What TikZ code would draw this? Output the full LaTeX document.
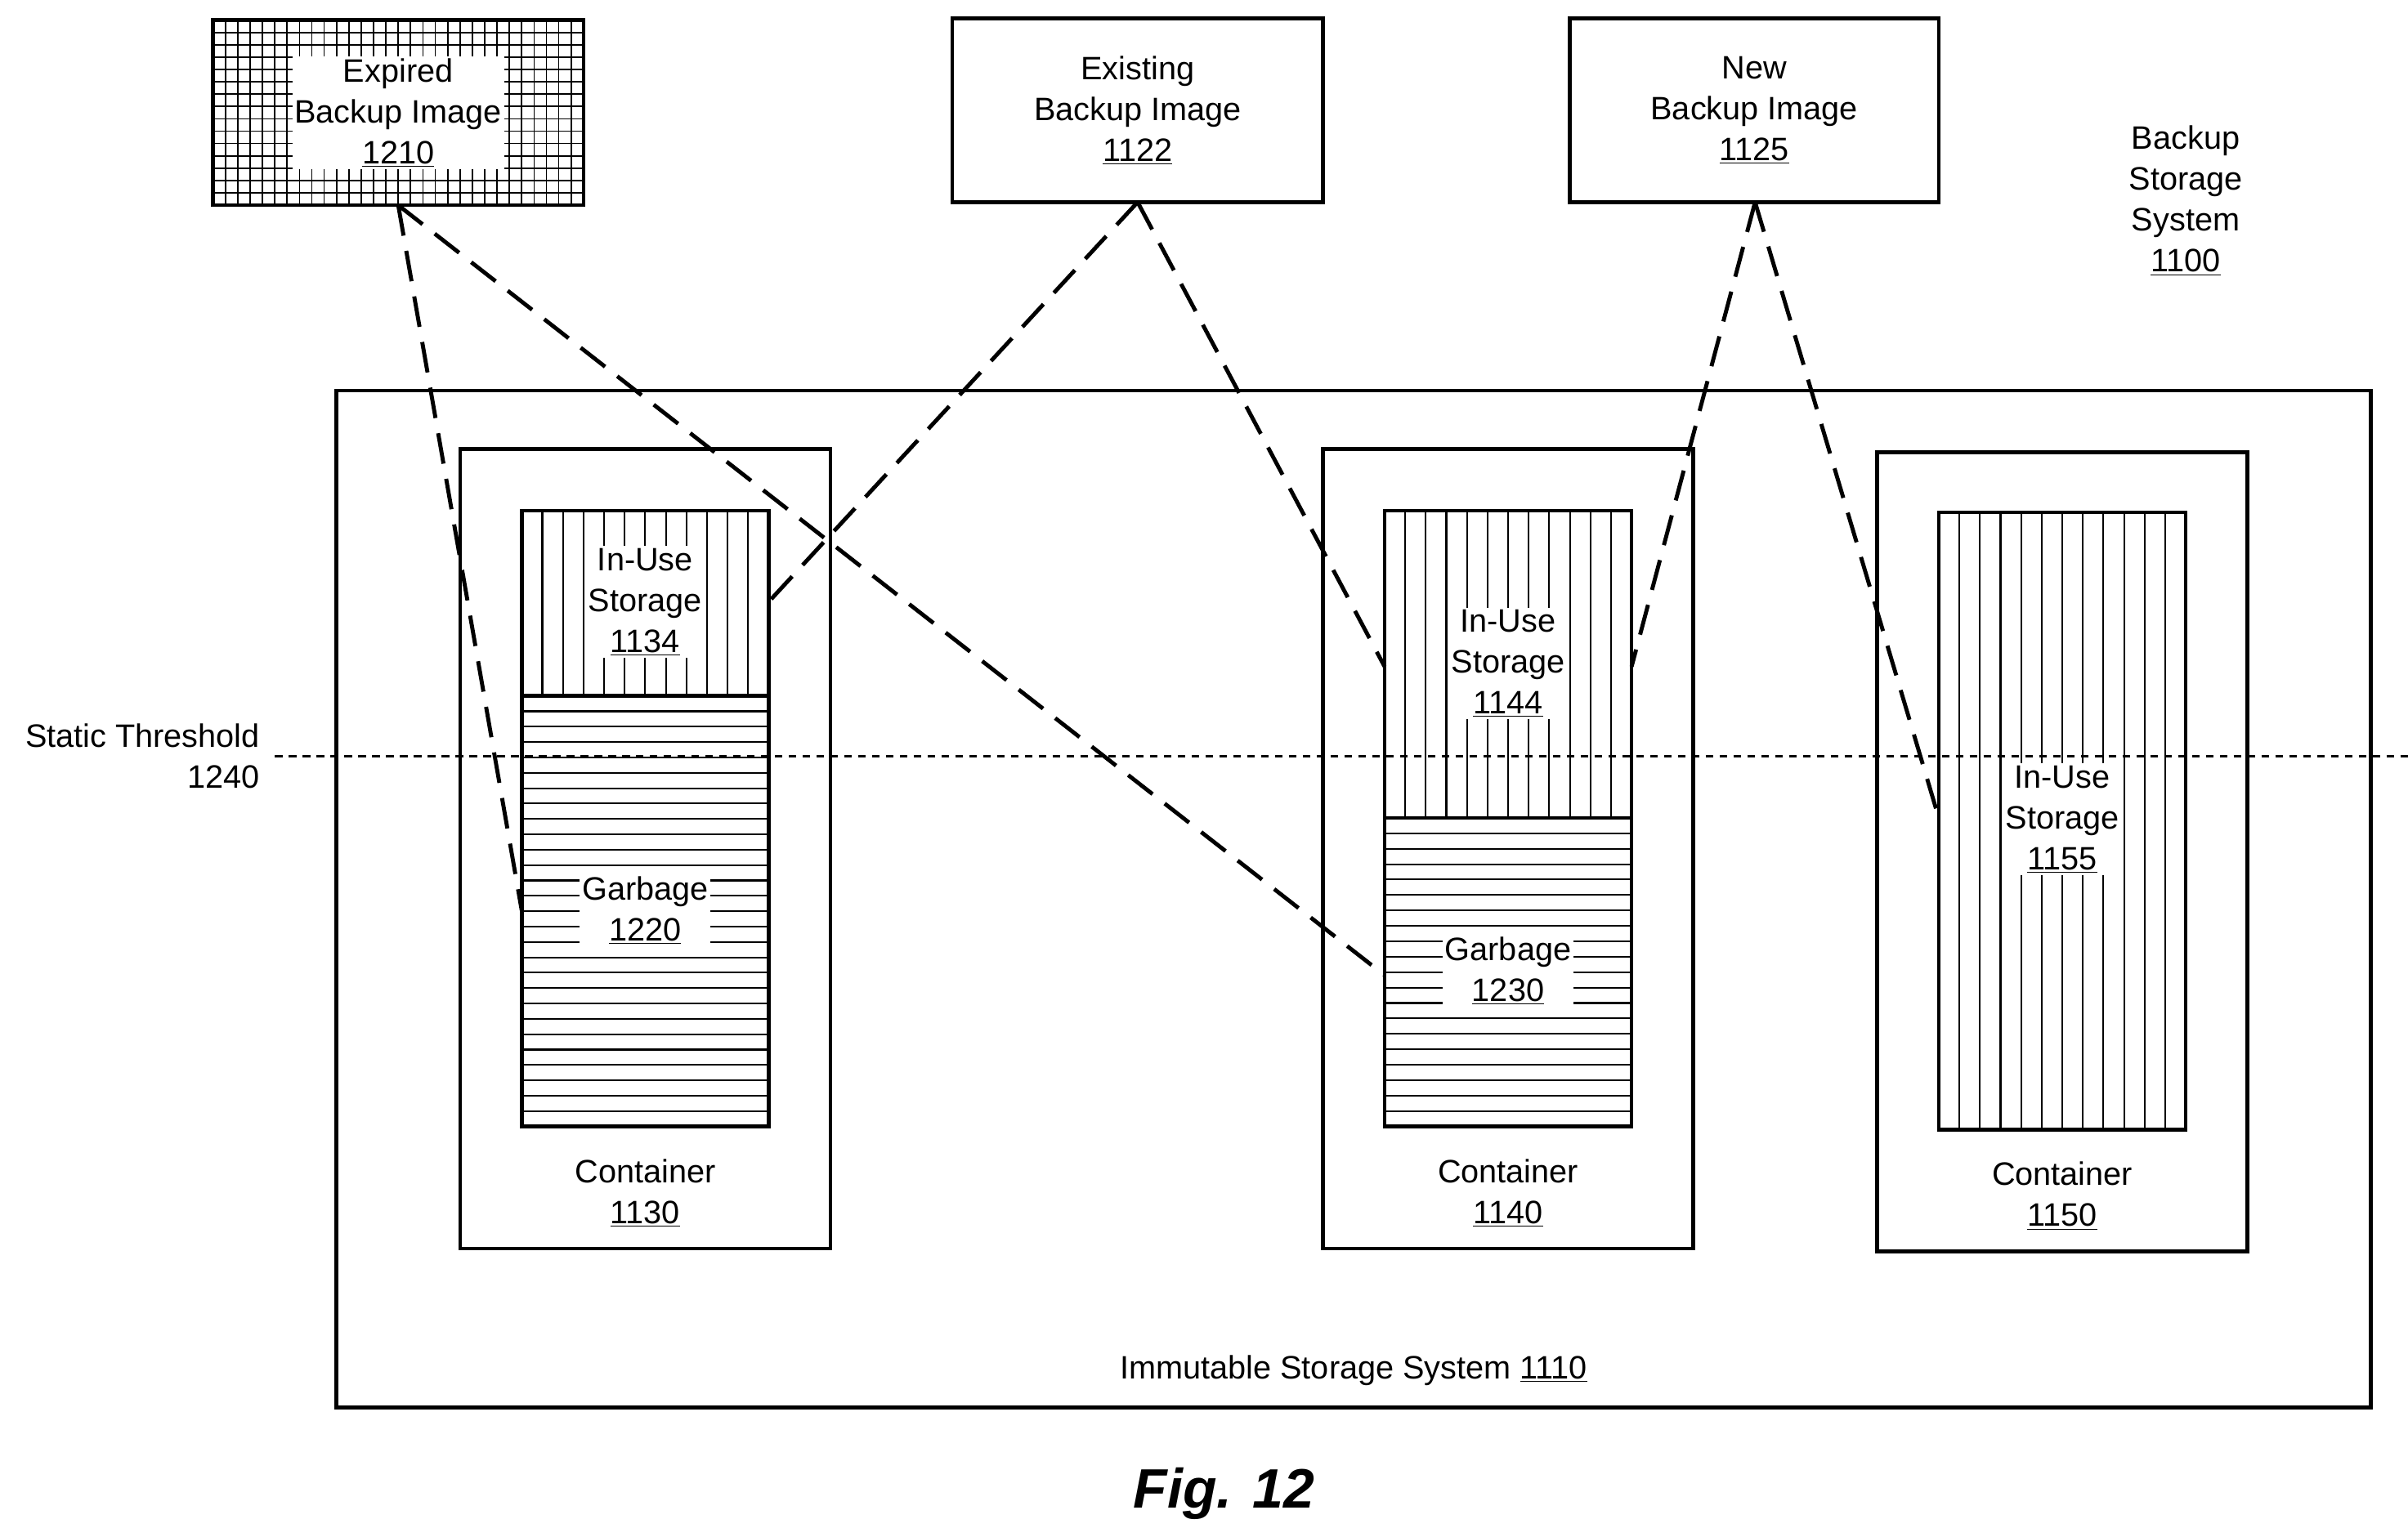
\documentclass[tikz,border=0pt]{standalone}
\usepackage{fontspec}
\setmainfont{Liberation Sans}
\begin{document}
\begin{tikzpicture}[x=1pt,y=-1pt,
  box/.style={draw,line width=2.4pt},
  pat/.style={line width=1.1pt},
  dl/.style={line width=2.6pt,dash pattern=on 20pt off 10pt},
  lbl/.style={fill=white,inner sep=1.5pt,align=center,font=\fontsize{21}{26.5}\selectfont}]
\useasboundingbox (0,0) rectangle (1560,996);
% expired grid
\foreach \i in {1,...,29} \draw[pat,line width=0.9pt] (138+\i*8,13)--(138+\i*8,133);
\foreach \i in {1,...,14} \draw[pat,line width=0.9pt] (138,13+\i*8)--(378,13+\i*8);
\node[box,minimum width=240pt,minimum height=120pt] (exp) at (258,73) {};
\node[lbl] at (258,73) {Expired\\Backup Image\\\underline{1210}};
\node[box,minimum width=240pt,minimum height=119pt,align=center,font=\fontsize{21}{26.5}\selectfont] (ex) at (737,71.5) {Existing\\Backup Image\\\underline{1122}};
\node[box,minimum width=239pt,minimum height=119pt,align=center,font=\fontsize{21}{26.5}\selectfont] (nw) at (1136.5,71.5) {New\\Backup Image\\\underline{1125}};
\node[lbl] (bss) at (1416,130) {Backup\\Storage\\System\\\underline{1100}};
% outer
\draw[box] (218,253) rectangle (1536,912);
\node[lbl] (iss) at (877,888) {Immutable Storage System \underline{1110}};
% containers
\draw[box] (298,291) rectangle (538,809);
\draw[box] (857,291) rectangle (1097,809);
\draw[box] (1216,293) rectangle (1456,811);
% column 1130
\foreach \i in {1,...,11} \draw[pat] (338+\i*13.333,331)--(338+\i*13.333,451);
\foreach \i in {1,...,27} \draw[pat] (338,451+\i*9.964)--(498,451+\i*9.964);
\draw[box] (338,331) rectangle (498,730); \draw[box] (338,451)--(498,451);
% column 1140
\foreach \i in {1,...,11} \draw[pat] (897+\i*13.333,331)--(897+\i*13.333,530);
\foreach \i in {1,...,19} \draw[pat] (897,530+\i*10)--(1057,530+\i*10);
\draw[box] (897,331) rectangle (1057,730); \draw[box] (897,530)--(1057,530);
% column 1150
\foreach \i in {1,...,11} \draw[pat] (1256+\i*13.333,332)--(1256+\i*13.333,732);
\draw[box] (1256,332) rectangle (1416,732);
% labels
\node[lbl] (u1) at (418,390) {In-Use\\Storage\\\underline{1134}};
\node[lbl] (g1) at (418,590) {Garbage\\\underline{1220}};
\node[lbl] (c1) at (418,773) {Container\\\underline{1130}};
\node[lbl] (u2) at (977,430) {In-Use\\Storage\\\underline{1144}};
\node[lbl] (g2) at (977,629) {Garbage\\\underline{1230}};
\node[lbl] (c2) at (977,773) {Container\\\underline{1140}};
\node[lbl] (u3) at (1336,531) {In-Use\\Storage\\\underline{1155}};
\node[lbl] (c3) at (1336,775) {Container\\\underline{1150}};
% threshold
\coordinate (t1) at (178,490); \coordinate (t2) at (1560,490);
\draw[line width=1.6pt,dash pattern=on 5pt off 4pt] (t1)--(t2);
\node[lbl,fill=none,align=right,anchor=east] (st) at (170,490) {Static Threshold\\1240};
% dashed connectors
\coordinate (a) at (258,133); \coordinate (b) at (737,131); \coordinate (c) at (1137,131);
\coordinate (a1) at (338,590); \coordinate (a2) at (897,632);
\coordinate (b1) at (498,390); \coordinate (b2) at (897,432);
\coordinate (c1) at (1057,432); \coordinate (c2) at (1256,530);
\draw[dl] (a)--(a1); \draw[dl] (a)--(a2);
\draw[dl] (b)--(b1); \draw[dl] (b)--(b2);
\draw[dl] (c)--(c1); \draw[dl] (c)--(c2);
\node[font=\fontsize{36}{40}\selectfont\bfseries\itshape] (fig) at (793,968) {Fig. 12};
\end{tikzpicture}
\end{document}
